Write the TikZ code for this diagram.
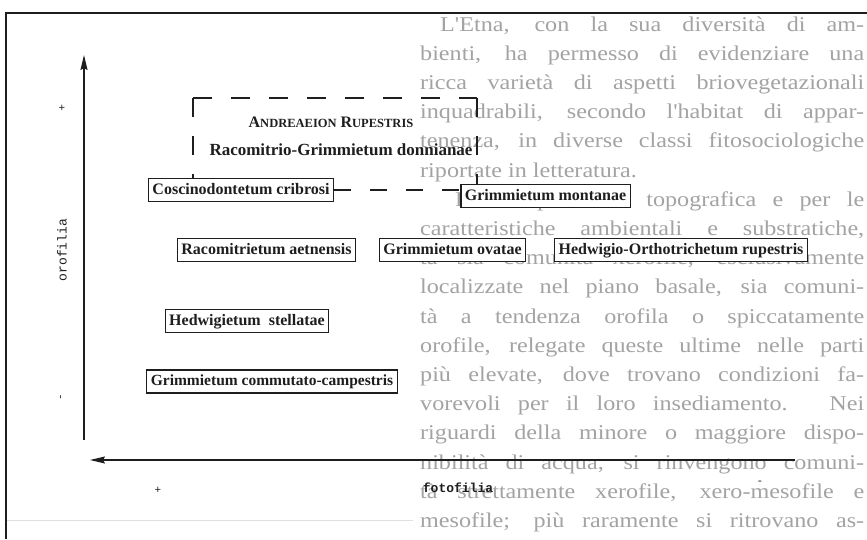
\documentclass[tikz,border=0pt]{standalone}
\usepackage{fontspec}
\setmainfont{Liberation Serif}
\newfontfamily\monof{Liberation Mono}
\newfontfamily\ghostf[FakeStretch=1.15]{Liberation Serif}
\usetikzlibrary{arrows.meta}
\definecolor{ink}{HTML}{1E1E1E}
\definecolor{ghost}{gray}{0.64}
\definecolor{faint}{gray}{0.88}
\begin{document}
\begin{tikzpicture}[x=1pt,y=-1pt,
  lbl/.style={draw=ink,line width=1.3pt,fill=white,inner xsep=4pt,inner ysep=4pt,
    text height=11.5pt,text depth=3.5pt,text=ink,font=\fontsize{16}{18}\selectfont\bfseries},
  plain/.style={inner sep=0pt,text=ink,font=\fontsize{16}{18}\selectfont\bfseries},
  dsh/.style={draw=ink,line width=1.3pt,dash pattern=on 19pt off 19pt},
  dshb/.style={draw=ink,line width=1.3pt,dash pattern=on 17pt off 19pt},
  axis/.style={draw=ink,line width=1.3pt,-{Stealth[length=15pt,width=7pt,inset=2pt]}},
  frame/.style={draw=ink,line width=2pt},
  sign/.style={inner sep=0pt,text=ink,font=\fontsize{11}{12}\selectfont\monof},
  axlbl/.style={inner sep=0pt,text=ink,font=\fontsize{13}{14}\selectfont\monof},
  ghosttxt/.style={inner sep=0pt,anchor=base west,text=ghost,font=\fontsize{21}{23}\ghostf}
]
\useasboundingbox (0,0) rectangle (867,539);
\fill[white] (0,0) rectangle (867,539);

% show-through text of the page
\begin{scope}
\clip (0,0) rectangle (867,539);
\node[ghosttxt] (g1) at (440,31) {\makebox[424pt][s]{L'Etna, con la sua diversità di am-}};
\node[ghosttxt] (g2) at (420,60.2) {\makebox[444pt][s]{bienti, ha permesso di evidenziare una}};
\node[ghosttxt] (g3) at (420,89.4) {\makebox[444pt][s]{ricca varietà di aspetti briovegetazionali}};
\node[ghosttxt] (g4) at (420,118.6) {\makebox[444pt][s]{inquadrabili, secondo l'habitat di appar-}};
\node[ghosttxt] (g5) at (420,147.8) {\makebox[444pt][s]{tenenza, in diverse classi fitosociologiche}};
\node[ghosttxt] (g6) at (420,177) {riportate in letteratura.};
\node[ghosttxt] (g7) at (455,206.2) {\makebox[409pt][s]{Per la posizione topografica e per le}};
\node[ghosttxt] (g8) at (420,235.4) {\makebox[444pt][s]{caratteristiche ambientali e substratiche,}};
\node[ghosttxt] (g9) at (420,264.6) {\makebox[444pt][s]{tà sia comunità xerofile, esclusivamente}};
\node[ghosttxt] (g10) at (420,293.8) {\makebox[444pt][s]{localizzate nel piano basale, sia comuni-}};
\node[ghosttxt] (g11) at (420,323) {\makebox[444pt][s]{tà a tendenza orofila o spiccatamente}};
\node[ghosttxt] (g12) at (420,352.2) {\makebox[444pt][s]{orofile, relegate queste ultime nelle parti}};
\node[ghosttxt] (g13) at (420,381.4) {\makebox[444pt][s]{più elevate, dove trovano condizioni fa-}};
\node[ghosttxt] (g14) at (420,410.6) {\makebox[444pt][s]{vorevoli per il loro insediamento. Nei}};
\node[ghosttxt] (g15) at (420,439.8) {\makebox[444pt][s]{riguardi della minore o maggiore dispo-}};
\node[ghosttxt] (g16) at (420,469) {\makebox[444pt][s]{nibilità di acqua, si rinvengono comuni-}};
\node[ghosttxt] (g17) at (420,498.2) {\makebox[444pt][s]{tà strettamente xerofile, xero-mesofile e}};
\node[ghosttxt] (g18) at (420,527.4) {\makebox[444pt][s]{mesofile; più raramente si ritrovano as-}};
\end{scope}
\draw[faint,line width=1pt] (6,520) -- (413,520);

% frame
\draw[frame] (867,13) -- (6,13) -- (6,539);

% boxes
\node[lbl] (cosc) at (241,190) {Coscinodontetum cribrosi};
\node[lbl] (mont) at (545.5,196) {Grimmietum montanae};
\node[lbl] (raco) at (266.5,250) {Racomitrietum aetnensis};
\node[lbl] (ovat) at (452.5,250) {Grimmietum ovatae};
\node[lbl] (hedo) at (681,250) {Hedwigio-Orthotrichetum rupestris};
\node[lbl] (heds) at (247,321) {Hedwigietum\ \ stellatae};
\node[lbl,font=\fontsize{15.5}{18}\selectfont\bfseries] (comm) at (272,381.5) {Grimmietum commutato-campestris};

% texts inside the dashed bracket
\node[plain] (andr) at (331,122) {A{\fontsize{12.5}{14}\selectfont NDREAEION} R{\fontsize{12.5}{14}\selectfont UPESTRIS}};
\node[plain,font=\fontsize{17}{19}\selectfont\bfseries] (donn) at (341,150) {Racomitrio-Grimmietum donnianae};

% dashed bracket
\coordinate (tl) at (193,98);
\coordinate (tr) at (477,98);
\draw[dsh] (tl) -- (tl |- cosc.north);
\draw[dsh] (tl) -- (tr);
\draw[dsh] (tr) -- (tr |- mont.north);
\draw[dshb] (cosc.east) -- (cosc.east -| mont.west);

% axes
\coordinate (vb) at (84,440);
\coordinate (vt) at (84,55);
\draw[axis] (vb) -- (vt);
\coordinate (hr) at (795,460);
\coordinate (hl) at (90,460);
\draw[axis] (hr) -- (hl);

% axis labels and signs
\node[axlbl,rotate=90] (orof) at (62,250) {orofilia};
\node[axlbl,font=\fontsize{13}{14}\selectfont\monof\bfseries] (foto) at (458,488) {fotofilia};
\node[sign] (vplus) at (62,108) {+};
\node[sign,rotate=90] (vminus) at (62,397) {-};
\node[sign] (hplus) at (158,490) {+};
\node[sign] (hminus) at (760,483) {-};
\end{tikzpicture}
\end{document}
